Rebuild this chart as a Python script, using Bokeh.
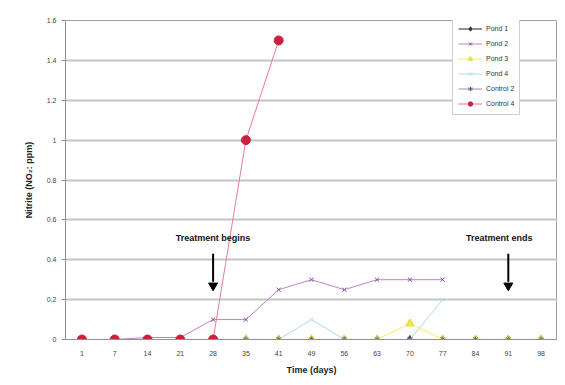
from bokeh.plotting import figure
from bokeh.embed import file_html
from bokeh.resources import INLINE
from bokeh.models import FixedTicker, Legend, LegendItem
from bokeh.core.properties import value

days = ["1", "7", "14", "21", "28", "35", "41", "49", "56", "63", "70", "77", "84", "91", "98"]
pond1 = [0, 0, 0, 0, 0, 0, 0, 0, 0, 0, 0, 0, 0, 0, 0]
pond2 = [0, 0, 0.01, 0.01, 0.1, 0.1, 0.25, 0.3, 0.25, 0.3, 0.3, 0.3]
pond3 = [0, 0, 0, 0, 0, 0, 0, 0, 0, 0, 0.08, 0, 0, 0, 0]
pond4 = [0, 0, 0, 0, 0, 0, 0, 0.1, 0, 0, 0, 0.2]
control2 = [0, 0, 0, 0, 0, 0, 0, 0, 0, 0, 0, 0, 0, 0, 0]
control4 = [0, 0, 0, 0, 0, 1.0, 1.5]

ytick_vals = [0, 0.2, 0.4, 0.6, 0.8, 1.0, 1.2, 1.4, 1.6]
ytick_labels = ["0", "0.2", "0.4", "0.6", "0.8", "1", "1.2", "1.4", "1.6"]

treat_begin_day = "28"
treat_end_day = "91"

FONT = "Liberation Sans"

p = figure(width=557, height=377, x_range=days, y_range=(0, 1.6),
           output_backend="svg", toolbar_location=None,
           min_border_left=65, min_border_right=0, min_border_top=20, min_border_bottom=36)

p.outline_line_color = "#a0a0a0"
p.outline_line_width = 1
p.xgrid.grid_line_color = None
p.ygrid.grid_line_color = "#c4c4c4"
p.ygrid.grid_line_width = 2
p.yaxis.ticker = FixedTicker(ticks=ytick_vals)
p.yaxis.major_label_overrides = {v: l for v, l in zip(ytick_vals, ytick_labels)}
for ax in (p.xaxis[0], p.yaxis[0]):
    ax.major_label_text_font = FONT
    ax.major_label_text_font_size = "7px"
    ax.major_label_text_color = "#444444"
    ax.axis_line_color = "#909090"
    ax.major_tick_line_color = "#909090"
    ax.minor_tick_line_color = None
    ax.axis_label_text_font = FONT
    ax.axis_label_text_font_size = "9px"
    ax.axis_label_text_font_style = "bold"
    ax.axis_label_text_color = "#222222"
p.xaxis.major_tick_line_color = None
p.yaxis.major_tick_in = 0
p.yaxis.major_tick_out = 4
p.xaxis.axis_label = "Time (days)"
p.yaxis.axis_label = "Nitrite (NO\u2082: ppm)"
p.xaxis.axis_label_standoff = 6
p.yaxis.axis_label_standoff = 10

items = []

def series(name, ys, line_color, marker, m_fill, m_line, m_size):
    xs = days[:len(ys)]
    r1 = p.line(xs, ys, line_color=line_color, line_width=1)
    r2 = p.scatter(xs, ys, marker=marker, size=m_size, fill_color=m_fill, line_color=m_line, line_width=1)
    items.append(LegendItem(label=name, renderers=[r1, r2]))

series("Pond 1", pond1, "#222222", "diamond", "#333333", "#333333", 8)
series("Pond 2", pond2, "#c080c8", "x", "#7a55aa", "#7a55aa", 6)
series("Pond 3", pond3, "#f2ee60", "triangle", "#f0ea40", "#e0d830", 8)
series("Pond 4", pond4, "#a8dce8", "x", "#a8dce8", "#a8dce8", 5)
series("Control 2", control2, "#9a88bb", "asterisk", "#6a5a9a", "#6a5a9a", 6)
series("Control 4", control4, "#e87a9a", "circle", "#cc2040", "#cc2040", 9)

legend = Legend(items=items, location=(387, 224), label_text_font=FONT,
                label_text_font_size="7px", label_text_color="#333333",
                glyph_width=24, glyph_height=11, spacing=4, padding=5, margin=0,
                label_standoff=4, border_line_color="#a0a0a0", border_line_width=1,
                background_fill_alpha=1.0)
p.add_layout(legend, "center")

for day, txt, dx in ((treat_begin_day, "Treatment begins", 0), (treat_end_day, "Treatment ends", -9)):
    p.segment(x0=[day], y0=[0.43], x1=[day], y1=[0.29], line_color="black", line_width=2)
    p.scatter(x=[day], y=[0.27], marker="inverted_triangle", size=9, fill_color="black", line_color="black")
    p.text(x=[day], y=[0.51], text=[txt], text_align="center", text_baseline="middle",
           text_font=value(FONT), text_font_size="9px", text_font_style="bold",
           text_color="#111111", x_offset=dx)

open("out.html", "w").write(file_html(p, INLINE))
